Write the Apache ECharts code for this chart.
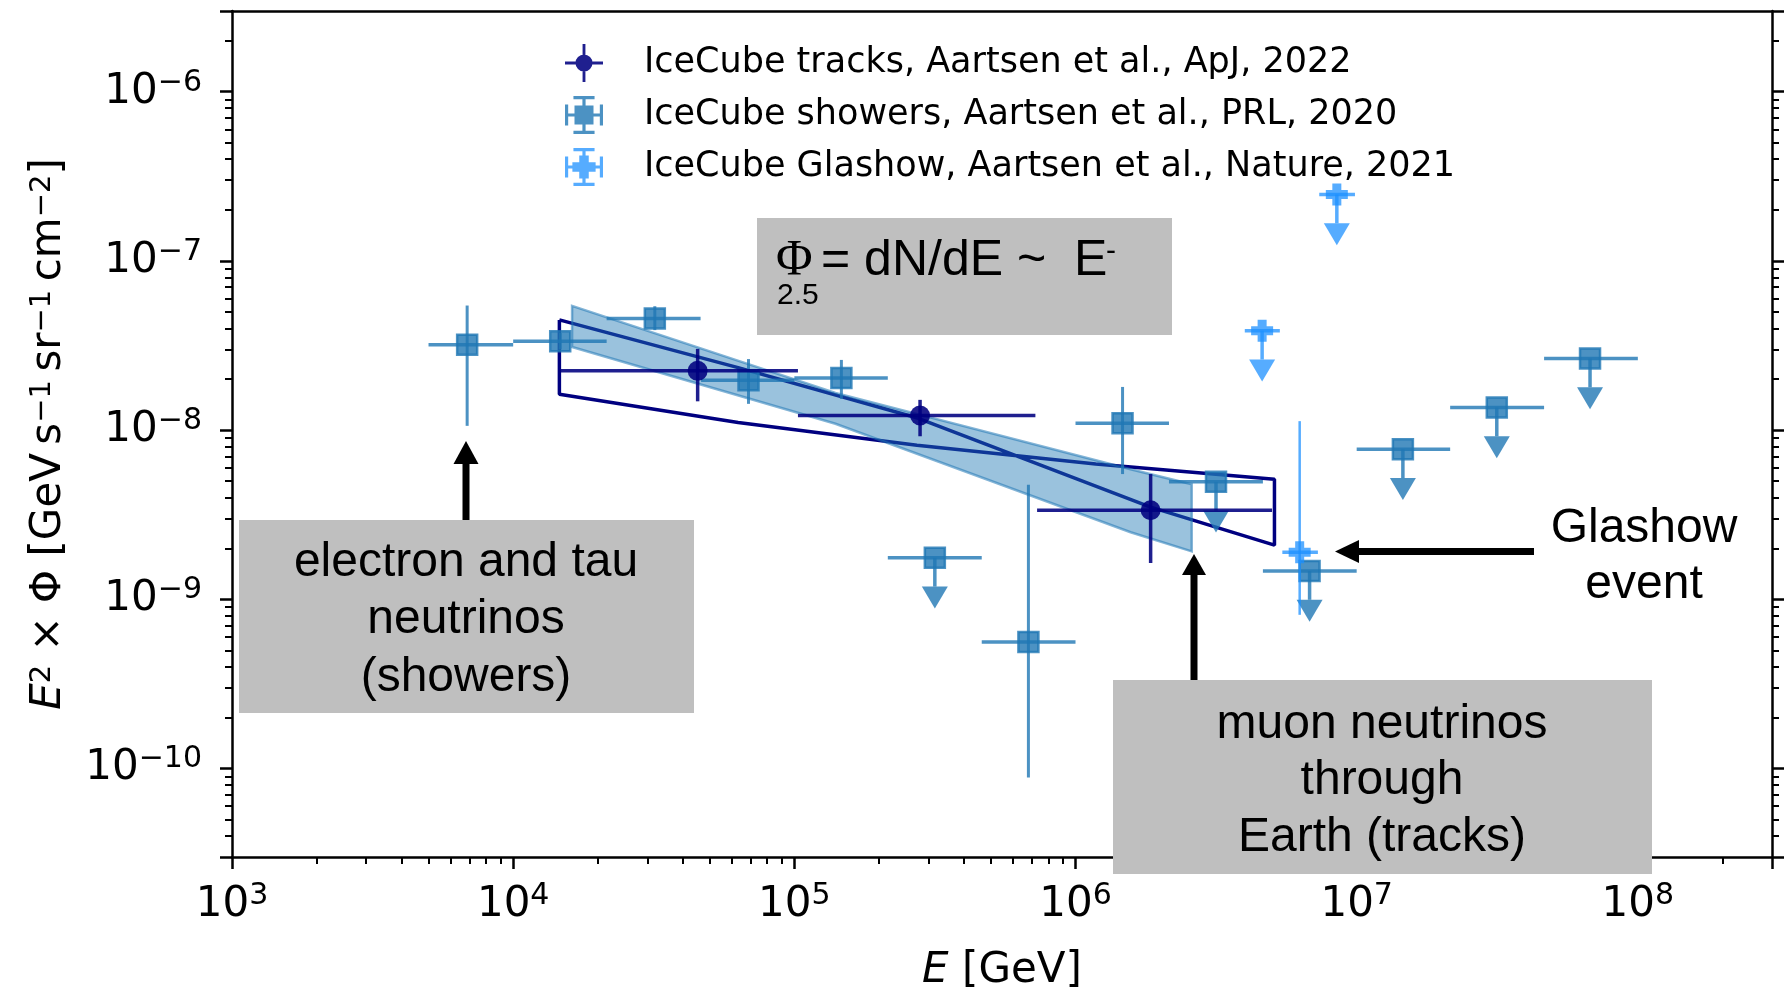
<!DOCTYPE html>
<html><head><meta charset="utf-8">
<script src="https://cdn.jsdelivr.net/npm/echarts@6/dist/echarts.min.js"></script>
<style>html,body{margin:0;padding:0;background:#fff}#c{width:1784px;height:990px}</style>
</head><body><div id="c"></div>
<script>
// ---------------- data ----------------
const xTickExponents = [3, 4, 5, 6, 7, 8];
const yTickExponents = [-10, -9, -8, -7, -6];

const tracksName = 'IceCube tracks, Aartsen et al., ApJ, 2022';
const tracksE      = [4.53e4, 2.80e5, 1.85e6];
const tracksFlux   = [2.24e-8, 1.22e-8, 3.36e-9];
const tracksElo    = [1.47e4, 1.03e5, 7.3e5];
const tracksEhi    = [1.03e5, 7.2e5, 5.0e6];
const tracksFluxLo = [1.48e-8, 9.2e-9, 1.64e-9];
const tracksFluxHi = [3.02e-8, 1.51e-8, 5.5e-9];
const tracksUL     = [0, 0, 0];

const showersName = 'IceCube showers, Aartsen et al., PRL, 2020';
const showersE      = [6.86e3, 1.47e4, 3.19e4, 6.87e4, 1.47e5, 3.16e5, 6.8e5, 1.47e6, 3.16e6, 6.8e6, 1.46e7, 3.15e7, 6.76e7];
const showersFlux   = [3.2e-8, 3.35e-8, 4.57e-8, 1.97e-8, 2.03e-8, 1.76e-9, 5.6e-10, 1.1e-8, 4.95e-9, 1.47e-9, 7.7e-9, 1.36e-8, 2.65e-8];
const showersElo    = [5.0e3, 1.0e4, 2.15e4, 4.66e4, 1.0e5, 2.15e5, 4.64e5, 1.0e6, 2.15e6, 4.64e6, 1.0e7, 2.15e7, 4.64e7];
const showersEhi    = [1.0e4, 2.15e4, 4.64e4, 1.0e5, 2.15e5, 4.64e5, 1.0e6, 2.15e6, 4.64e6, 1.0e7, 2.15e7, 4.64e7, 1.0e8];
const showersFluxLo = [1.06e-8, 3.0e-8, 3.9e-8, 1.43e-8, 1.53e-8, null, 8.85e-11, 5.5e-9, null, null, null, null, null];
const showersFluxHi = [5.45e-8, 3.75e-8, 5.4e-8, 2.63e-8, 2.6e-8, null, 4.76e-9, 1.8e-8, null, null, null, null, null];
const showersUL     = [0, 0, 0, 0, 0, 1, 0, 0, 1, 1, 1, 1, 1];

const glashowName = 'IceCube Glashow, Aartsen et al., Nature, 2021';
const glashowE      = [4.61e6, 6.27e6, 8.5e6];
const glashowFlux   = [3.87e-8, 1.9e-9, 2.47e-7];
const glashowElo    = [4.0e6, 5.44e6, 7.36e6];
const glashowEhi    = [5.33e6, 7.28e6, 9.86e6];
const glashowFluxLo = [null, 8.1e-10, null];
const glashowFluxHi = [null, 1.13e-8, null];
const glashowUL     = [1, 0, 1];

// track fit envelope (closed outline: steep edge left->right, then shallow edge right->left)
const trackEnvE = [1.46e4, 6.31e4, 2.76e5, 1.85e6, 5.1e6, 5.1e6, 1.18e6, 2.73e5, 6.31e4, 1.46e4, 1.46e4];
const trackEnvF = [4.48e-8, 2.34e-8, 1.175e-8, 3.51e-9, 2.09e-9, 5.13e-9, 6.31e-9, 8.13e-9, 1.11e-8, 1.63e-8, 4.48e-8];
// shower fit band (closed polygon)
const showerBandE = [1.62e4, 1.40e5, 1.57e6, 2.59e6, 2.59e6, 1.57e6, 1.40e5, 1.62e4];
const showerBandF = [5.42e-8, 1.66e-8, 5.87e-9, 4.79e-9, 1.92e-9, 2.49e-9, 1.09e-8, 3.10e-8];

// ---------------- styles ----------------
const C_TRACK = 'rgba(0,0,128,0.88)';
const C_SHOWER = 'rgba(31,119,180,0.8)';
const C_GLASHOW = 'rgba(30,144,255,0.75)';
const UL_SHAFT_DECADES = 0.17;
const FONT = 'DejaVu Sans';
const ANN_FONT = 'Liberation Sans';

function buildData(E, F, Elo, Ehi, Flo, Fhi, UL) {
  return E.map((e, i) => [e, F[i], Elo[i], Ehi[i], Flo[i] == null ? 0 : Flo[i], Fhi[i] == null ? 0 : Fhi[i], UL[i]]);
}

function markerShape(kind, cx, cy, color) {
  if (kind === 'circle') return {type: 'circle', shape: {cx: cx, cy: cy, r: 10}, style: {fill: color}};
  if (kind === 'square') return {type: 'rect', shape: {x: cx - 10, y: cy - 10, width: 20, height: 20}, style: {fill: color, stroke: color, lineWidth: 2.5}};
  const a = 11, t = 4.5; // filled plus
  return {type: 'polygon', shape: {points: [
    [cx - t, cy - a], [cx + t, cy - a], [cx + t, cy - t], [cx + a, cy - t], [cx + a, cy + t], [cx + t, cy + t],
    [cx + t, cy + a], [cx - t, cy + a], [cx - t, cy + t], [cx - a, cy + t], [cx - a, cy - t], [cx - t, cy - t]]},
    style: {fill: color}};
}

function errRenderer(kind, color, lw, vlw) {
  return function (params, api) {
    const x = api.value(0), y = api.value(1);
    const c = api.coord([x, y]);
    const pl = api.coord([api.value(2), y]);
    const pr = api.coord([api.value(3), y]);
    const ul = api.value(6);
    const ch = [];
    ch.push({type: 'line', shape: {x1: pl[0], y1: c[1], x2: pr[0], y2: c[1]}, style: {stroke: color, lineWidth: lw}});
    if (ul) {
      const se = api.coord([x, y * Math.pow(10, -UL_SHAFT_DECADES)]);
      ch.push({type: 'line', shape: {x1: c[0], y1: c[1], x2: c[0], y2: se[1]}, style: {stroke: color, lineWidth: lw}});
      ch.push({type: 'polygon', shape: {points: [[c[0] - 13, se[1]], [c[0] + 13, se[1]], [c[0], se[1] + 22]]}, style: {fill: color}});
    } else {
      const pt = api.coord([x, api.value(5)]);
      const pb = api.coord([x, api.value(4)]);
      ch.push({type: 'line', shape: {x1: c[0], y1: pt[1], x2: c[0], y2: pb[1]}, style: {stroke: color, lineWidth: vlw}});
    }
    ch.push(markerShape(kind, c[0], c[1], color));
    return {type: 'group', children: ch};
  };
}

function polygonRenderer(xs, ys, style) {
  return function (params, api) {
    if (params.dataIndex !== 0) return null;
    const pts = xs.map((e, i) => api.coord([e, ys[i]]));
    return {type: 'polygon', shape: {points: pts}, style: style};
  };
}

function powLabel(v) {
  const l = Math.log10(v), r = Math.round(l);
  if (Math.abs(l - r) > 1e-6) return '';
  return '{b|10}{s|' + (r < 0 ? '\u2212' + (-r) : String(r)) + '}';
}
const tickRich = {
  b: {fontSize: 42, fontFamily: FONT, color: '#000', lineHeight: 48},
  s: {fontSize: 30, fontFamily: FONT, color: '#000', verticalAlign: 'top', lineHeight: 31}
};
const nameRich = {
  i: {fontSize: 42, fontFamily: FONT, fontStyle: 'italic', color: '#000'},
  s: {fontSize: 29, fontFamily: FONT, color: '#000', verticalAlign: 'top', lineHeight: 30}
};

// legend icons (40x40 boxes)
const ICON_TRACK = 'path://M0,18.5h40v3h-40z M18.5,0h3v40h-3z M11,20a9,9 0 1,1 18,0a9,9 0 1,1 -18,0z';
const ICON_SHOWER = 'path://M2,18.5h36v3h-36z M18.5,2h3v36h-3z M10,2h20v3h-20z M10,35h20v3h-20z M2,10h3v20h-3z M35,10h3v20h-3z M11,11h18v18h-18z';
const ICON_GLASHOW = 'path://M2,18.5h36v3h-36z M18.5,2h3v36h-3z M10,2h20v3h-20z M10,35h20v3h-20z M2,10h3v20h-3z M35,10h3v20h-3z M15.5,9h9v22h-9z M9,15.5h22v9h-22z';

const axisCommon = {
  type: 'log', logBase: 10,
  axisLine: {show: true, lineStyle: {color: '#000', width: 2.5}},
  splitLine: {show: false}
};

const chart = echarts.init(document.getElementById('c'), null, {renderer: 'canvas'});
chart.setOption({
  backgroundColor: '#fff',
  animation: false,
  grid: {left: 232, right: 12, top: 11, bottom: 133, containLabel: false, outerBoundsMode: 'none'},
  legend: {
    orient: 'vertical', left: 560, top: 37, itemGap: 10,
    itemWidth: 38, itemHeight: 38,
    textStyle: {fontSize: 35, fontFamily: FONT, color: '#000', lineHeight: 42, padding: [0, 0, 0, 36]},
    itemStyle: {borderWidth: 0},
    data: [
      {name: tracksName, icon: ICON_TRACK},
      {name: showersName, icon: ICON_SHOWER},
      {name: glashowName, icon: ICON_GLASHOW}
    ]
  },
  xAxis: [
    Object.assign({}, axisCommon, {
      position: 'bottom', min: 1e3, max: 3e8,
      name: '{i|E} [GeV]', nameLocation: 'middle', nameGap: 93,
      nameTextStyle: {fontSize: 42, fontFamily: FONT, color: '#000', rich: nameRich},
      axisTick: {show: true, inside: false, length: 12, lineStyle: {color: '#000', width: 2.5}},
      minorTick: {show: true, splitNumber: 9, length: 7, lineStyle: {color: '#000', width: 2}},
      axisLabel: {show: true, margin: 24, formatter: powLabel, rich: tickRich, color: '#000'}
    }),
    Object.assign({}, axisCommon, {
      position: 'top', min: 1e3, max: 3e8,
      axisTick: {show: false}, axisLabel: {show: false}
    })
  ],
  yAxis: [
    Object.assign({}, axisCommon, {
      position: 'left', min: 3e-11, max: 3e-6,
      name: '{i|E}{s|2} \u00d7 \u03a6 [GeV\u2009s{s|\u22121}\u2009sr{s|\u22121}\u2009cm{s|\u22122}]',
      nameLocation: 'middle', nameGap: 162,
      nameTextStyle: {fontSize: 42, fontFamily: FONT, color: '#000', rich: nameRich},
      axisTick: {show: true, inside: false, length: 12, lineStyle: {color: '#000', width: 2.5}},
      minorTick: {show: true, splitNumber: 9, length: 7, lineStyle: {color: '#000', width: 2}},
      axisLabel: {show: true, margin: 30, formatter: powLabel, rich: tickRich, color: '#000'}
    }),
    Object.assign({}, axisCommon, {
      position: 'right', min: 3e-11, max: 3e-6,
      axisTick: {show: true, inside: false, length: 12, lineStyle: {color: '#000', width: 2.5}},
      minorTick: {show: true, splitNumber: 9, length: 7, lineStyle: {color: '#000', width: 2}},
      axisLabel: {show: false}
    })
  ],
  series: [
    {
      name: 'track fit envelope', type: 'line', xAxisIndex: 0, yAxisIndex: 0, z: 2,
      data: trackEnvE.map((e, i) => [e, trackEnvF[i]]),
      symbol: 'none', lineStyle: {color: '#000080', width: 3.5}, silent: true
    },
    {
      name: 'shower fit band', type: 'custom', xAxisIndex: 0, yAxisIndex: 0, z: 3, clip: false,
      data: showerBandE.map((e, i) => [e, showerBandF[i]]),
      encode: {x: 0, y: 1},
      renderItem: polygonRenderer(showerBandE, showerBandF, {fill: 'rgba(31,119,180,0.45)', stroke: 'rgba(31,119,180,0.55)', lineWidth: 2.5})
    },
    {
      name: showersName, type: 'custom', xAxisIndex: 0, yAxisIndex: 0, z: 5, clip: false,
      itemStyle: {color: C_SHOWER},
      data: buildData(showersE, showersFlux, showersElo, showersEhi, showersFluxLo, showersFluxHi, showersUL),
      encode: {x: 0, y: 1},
      renderItem: errRenderer('square', C_SHOWER, 3.5, 3)
    },
    {
      name: tracksName, type: 'custom', xAxisIndex: 0, yAxisIndex: 0, z: 6, clip: false,
      itemStyle: {color: C_TRACK},
      data: buildData(tracksE, tracksFlux, tracksElo, tracksEhi, tracksFluxLo, tracksFluxHi, tracksUL),
      encode: {x: 0, y: 1},
      renderItem: errRenderer('circle', C_TRACK, 3.5, 3.5)
    },
    {
      name: glashowName, type: 'custom', xAxisIndex: 0, yAxisIndex: 0, z: 7, clip: false,
      itemStyle: {color: C_GLASHOW},
      data: buildData(glashowE, glashowFlux, glashowElo, glashowEhi, glashowFluxLo, glashowFluxHi, glashowUL),
      encode: {x: 0, y: 1},
      renderItem: errRenderer('plus', C_GLASHOW, 3.5, 2.5)
    }
  ],
  graphic: [
    // formula box
    {type: 'rect', z: 100, shape: {x: 757, y: 218, width: 415, height: 117}, style: {fill: '#bfbfbf'}},
    {type: 'text', z: 101, x: 776, y: 261, style: {text: '\u03a6', font: '50px "Liberation Serif"', fill: '#000', verticalAlign: 'middle'}},
    {type: 'text', z: 101, x: 821, y: 261, style: {text: '= dN/dE ~  E', font: '50px "' + ANN_FONT + '"', fill: '#000', verticalAlign: 'middle'}},
    {type: 'text', z: 101, x: 1106, y: 252, style: {text: '-', font: '30px "' + ANN_FONT + '"', fill: '#000', verticalAlign: 'middle'}},
    {type: 'text', z: 101, x: 777, y: 296, style: {text: '2.5', font: '30px "' + ANN_FONT + '"', fill: '#000', verticalAlign: 'middle'}},
    // showers box
    {type: 'rect', z: 100, shape: {x: 239, y: 520, width: 455, height: 193}, style: {fill: '#bfbfbf'}},
    {type: 'text', z: 101, x: 466, y: 620, style: {text: 'electron and tau\nneutrinos\n(showers)', fontFamily: ANN_FONT, fontSize: 48, lineHeight: 57.5, fill: '#000', align: 'center', verticalAlign: 'middle'}},
    // tracks box
    {type: 'rect', z: 100, shape: {x: 1113, y: 680, width: 539, height: 194}, style: {fill: '#bfbfbf'}},
    {type: 'text', z: 101, x: 1382, y: 781, style: {text: 'muon neutrinos\nthrough\nEarth (tracks)', fontFamily: ANN_FONT, fontSize: 48, lineHeight: 56.5, fill: '#000', align: 'center', verticalAlign: 'middle'}},
    // Glashow label
    {type: 'text', z: 101, x: 1644, y: 557, style: {text: 'Glashow\nevent', fontFamily: ANN_FONT, fontSize: 48, lineHeight: 56, fill: '#000', align: 'center', verticalAlign: 'middle'}},
    // arrows
    {type: 'rect', z: 101, shape: {x: 462.5, y: 462, width: 7, height: 58}, style: {fill: '#000'}},
    {type: 'polygon', z: 101, shape: {points: [[453.5, 464], [478.5, 464], [466, 441]]}, style: {fill: '#000'}},
    {type: 'rect', z: 101, shape: {x: 1190.5, y: 573, width: 7, height: 107}, style: {fill: '#000'}},
    {type: 'polygon', z: 101, shape: {points: [[1182, 575], [1206, 575], [1194, 554]]}, style: {fill: '#000'}},
    {type: 'rect', z: 101, shape: {x: 1357, y: 548, width: 177, height: 7}, style: {fill: '#000'}},
    {type: 'polygon', z: 101, shape: {points: [[1359, 540], [1359, 563], [1335, 551.5]]}, style: {fill: '#000'}}
  ]
});
</script></body></html>
